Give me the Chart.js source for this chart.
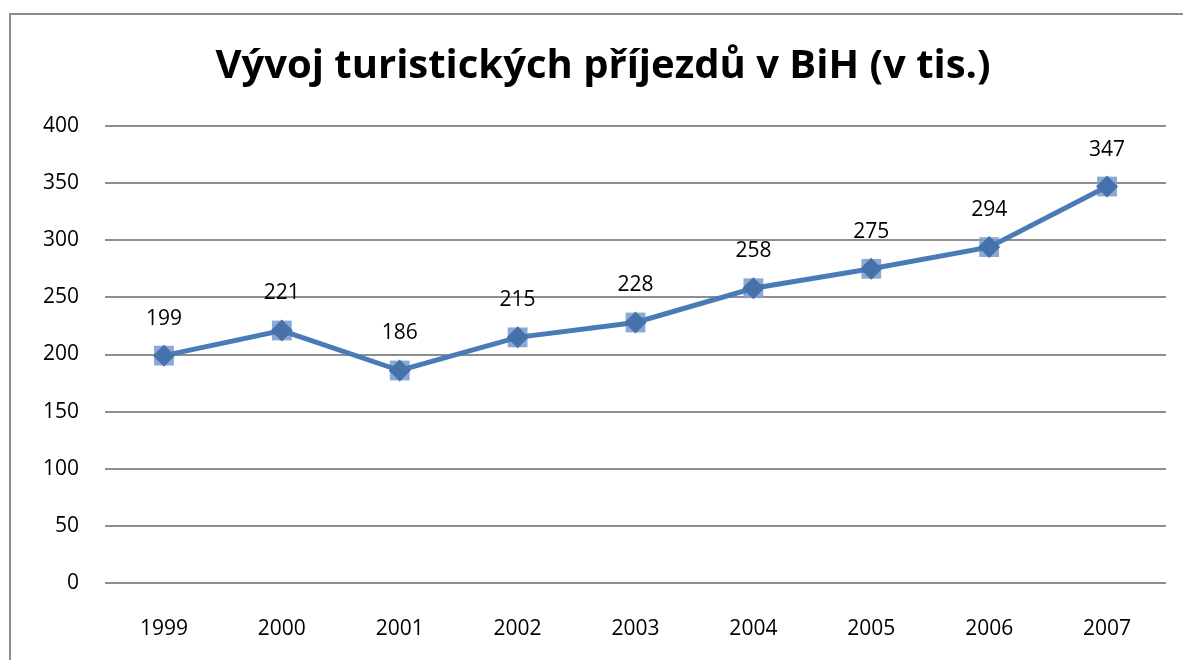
<!DOCTYPE html>
<html>
<head>
<meta charset="utf-8">
<script src="https://cdn.jsdelivr.net/npm/chart.js@4/dist/chart.umd.min.js"></script>
<style>
  html, body { margin: 0; padding: 0; background: #fff; overflow: hidden; }
  #frame { position: absolute; left: 9px; top: 13px; width: 1186px; height: 660px; border: 2px solid #8c8c8c; box-sizing: border-box; }
  #wrap { position: absolute; left: 2px; top: 2px; width: 1180px; height: 656px; }
</style>
</head>
<body>
<div id="frame"><div id="wrap"><canvas id="c"></canvas></div></div>
<script>
const titleText = 'Vývoj turistických příjezdů v BiH (v tis.)';
const categories = ['1999','2000','2001','2002','2003','2004','2005','2006','2007'];
const arrivals = [199, 221, 186, 215, 228, 258, 275, 294, 347];
const yTicks = [0, 50, 100, 150, 200, 250, 300, 350, 400];

const FONT = '"Open Sans", "Liberation Sans", sans-serif';

const titlePlugin = {
  id: 'fixedTitle',
  afterDraw(chart) {
    const ctx = chart.ctx;
    ctx.save();
    ctx.font = 'bold 40px ' + FONT;
    ctx.fillStyle = '#000';
    ctx.textAlign = 'center';
    ctx.textBaseline = 'alphabetic';
    ctx.fillText(titleText, chart.width / 2, 61);
    ctx.restore();
  }
};

const labelPlugin = {
  id: 'valueLabels',
  afterDatasetsDraw(chart) {
    const ctx = chart.ctx;
    const meta = chart.getDatasetMeta(0);
    ctx.save();
    ctx.font = '21px ' + FONT;
    ctx.fillStyle = '#000';
    ctx.textAlign = 'center';
    ctx.textBaseline = 'middle';
    meta.data.forEach((pt, i) => {
      ctx.fillText(String(arrivals[i]), pt.x, pt.y - 37);
    });
    ctx.restore();
  }
};

new Chart(document.getElementById('c'), {
  type: 'line',
  data: {
    labels: categories,
    datasets: [
      {
        data: arrivals,
        borderColor: '#4a7bb7',
        borderWidth: 5,
        pointStyle: 'rectRot',
        pointRadius: 11,
        pointBackgroundColor: '#4671aa',
        pointBorderWidth: 0,
        pointBorderColor: '#4671aa',
        tension: 0,
        order: 0
      },
      {
        data: arrivals,
        showLine: false,
        pointStyle: 'rect',
        pointRadius: 14,
        pointBackgroundColor: 'rgba(128,160,208,0.9)',
        pointBorderWidth: 0,
        order: 1
      }
    ]
  },
  options: {
    responsive: true,
    maintainAspectRatio: false,
    animation: false,
    layout: { padding: { top: 109, right: 27, bottom: 0, left: 0 } },
    plugins: {
      legend: { display: false },
      tooltip: { enabled: false },
      title: { display: false }
    },
    scales: {
      x: {
        offset: true,
        grid: { display: false, drawTicks: false },
        border: { display: false },
        ticks: { color: '#000', font: { family: FONT, size: 21 }, padding: 33, maxRotation: 0 },
        afterFit(s) { s.height = 90; }
      },
      y: {
        min: 0, max: 400,
        afterBuildTicks(s) { s.ticks = yTicks.map(v => ({ value: v })); },
        grid: { color: '#8e8e8e', lineWidth: 2, drawTicks: false },
        border: { display: false },
        ticks: { color: '#000', font: { family: FONT, size: 21 }, padding: 26 },
        afterFit(s) { s.width = 92; }
      }
    }
  },
  plugins: [labelPlugin, titlePlugin]
});
</script>
</body>
</html>
